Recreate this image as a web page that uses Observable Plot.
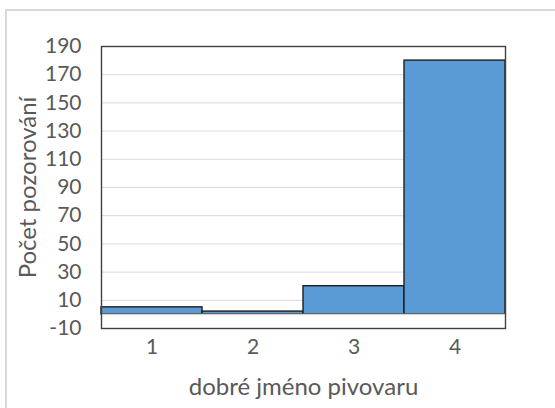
<!DOCTYPE html>
<html>
<head>
<meta charset="utf-8">
<script src="https://cdn.jsdelivr.net/npm/d3@7"></script>
<script src="https://cdn.jsdelivr.net/npm/@observablehq/plot@0.6"></script>
<style>
  html, body { margin: 0; padding: 0; background: #fff; overflow: hidden; }
  #wrap { position: relative; width: 555px; height: 408px; }
  #border { position: absolute; left: 5px; top: 9px; width: 600px; height: 500px;
            border: 2px solid #d9d9d9; box-sizing: border-box; }
  #chart { position: absolute; left: 0; top: 0; }
</style>
</head>
<body>
<div id="wrap"><div id="border"></div><div id="chart"></div></div>
<script>
// Histogram of brewery reputation ratings
const categories = [1, 2, 3, 4];
const counts = [5, 2, 20, 180];
const yTicks = [-10, 10, 30, 50, 70, 90, 110, 130, 150, 170, 190];
const xTitle = "dobré jméno pivovaru";
const yTitle = "Počet pozorování";

const data = categories.map((c, i) => ({category: c, count: counts[i]}));

const chart = Plot.plot({
  width: 555,
  height: 408,
  marginLeft: 101,
  marginRight: 50,
  marginTop: 46,
  marginBottom: 80,
  style: {fontFamily: "Lato, sans-serif", fontSize: "20px", color: "#595959", background: "transparent"},
  x: {type: "band", domain: categories, padding: 0},
  y: {domain: [-10, 190]},
  marks: [
    Plot.gridY(yTicks.slice(1, -1), {stroke: "#d9d9d9", strokeOpacity: 1, strokeWidth: 1}),
    Plot.barY(data, {x: "category", y1: 0, y2: "count", fill: "#5b9bd5", stroke: "#1e1e1e", strokeWidth: 1.4, inset: 0}),
    Plot.ruleY([0], {stroke: "#d9d9d9", strokeWidth: 1.5}),
    Plot.frame({stroke: "#404040", strokeWidth: 1.4}),
    Plot.axisY(yTicks, {tickSize: 0, tickPadding: 20, fill: "#595959", label: null, fontSize: 21,
      tickFormat: d => String(d)}),
    Plot.axisX({tickSize: 0, tickPadding: 11, fill: "#595959", label: null, fontSize: 21}),
    Plot.text([yTitle], {frameAnchor: "left", dx: -73, rotate: -90, fontSize: 24,
      fill: "#595959", textAnchor: "middle", lineAnchor: "middle"}),
    Plot.text([xTitle], {frameAnchor: "bottom", dy: 59, fontSize: 24,
      fill: "#595959", textAnchor: "middle", lineAnchor: "middle"})
  ]
});
document.getElementById("chart").appendChild(chart);
</script>
</body>
</html>
